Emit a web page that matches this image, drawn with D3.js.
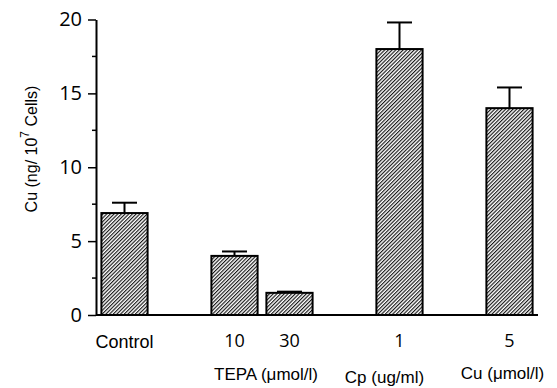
<!DOCTYPE html>
<html>
<head>
<meta charset="utf-8">
<script src="https://cdn.jsdelivr.net/npm/d3@7"></script>
<style>
  body { margin: 0; background: #fff; }
  text { fill: #000; }
</style>
</head>
<body>
<script>
// data
var labels = ["Control", "10", "30", "1", "5"];
var groups = ["Control", "TEPA", "TEPA", "Cp", "Cu"];
var values = [6.9, 4.0, 1.5, 18.0, 14.0];
var errors = [0.7, 0.3, 0.08, 1.8, 1.4];
var groupLabels = [
    { group: "TEPA", text: "TEPA (\u03bcmol/l)" },
    { group: "Cp", text: "Cp (ug/ml)" },
    { group: "Cu", text: "Cu (\u03bcmol/l)" }
];
var yTicks = [0, 5, 10, 15, 20];
var yMinor = [2.5, 7.5, 12.5, 17.5];

var width = 557, height = 388;
var plotLeft = 96, plotRight = 538, plotTop = 19.5, plotBottom = 315;

var svg = d3.select("body").append("svg")
    .attr("width", width)
    .attr("height", height);

// hatch fill for the bars
var defs = svg.append("defs");
defs.append("pattern")
    .attr("id", "hatch")
    .attr("patternUnits", "userSpaceOnUse")
    .attr("width", 2.6)
    .attr("height", 2.6)
    .attr("patternTransform", "rotate(45)")
    .append("line")
    .attr("x1", 0.6).attr("y1", 0)
    .attr("x2", 0.6).attr("y2", 2.6)
    .attr("stroke", "#000")
    .attr("stroke-width", 1.05);

// build band domain with a blank slot whenever the group changes
var slots = [];
labels.forEach(function (d, i) {
    if (i > 0 && groups[i] !== groups[i - 1]) slots.push("gap" + i);
    slots.push(d);
});

var x = d3.scaleBand()
    .domain(slots)
    .range([plotLeft + 1, plotRight - 1])
    .paddingInner(0.16)
    .paddingOuter(0.08);

var y = d3.scaleLinear()
    .domain([0, 20])
    .range([plotBottom, plotTop]);

var data = labels.map(function (d, i) {
    return { label: d, group: groups[i], value: values[i], err: errors[i] };
});

// bars
svg.selectAll("rect.bar")
    .data(data)
    .enter().append("rect")
    .attr("class", "bar")
    .attr("x", function (d) { return x(d.label); })
    .attr("y", function (d) { return y(d.value); })
    .attr("width", x.bandwidth())
    .attr("height", function (d) { return y(0) - y(d.value); })
    .attr("fill", "url(#hatch)")
    .attr("stroke", "#000")
    .attr("stroke-width", 2);

// error bars (upper only)
var capW = 25;
var eb = svg.selectAll("g.err")
    .data(data)
    .enter().append("g")
    .attr("class", "err");
eb.append("line")
    .attr("x1", function (d) { return x(d.label) + x.bandwidth() / 2; })
    .attr("x2", function (d) { return x(d.label) + x.bandwidth() / 2; })
    .attr("y1", function (d) { return y(d.value); })
    .attr("y2", function (d) { return y(d.value + d.err); })
    .attr("stroke", "#000")
    .attr("stroke-width", 2);
eb.append("line")
    .attr("x1", function (d) { return x(d.label) + x.bandwidth() / 2 - capW / 2; })
    .attr("x2", function (d) { return x(d.label) + x.bandwidth() / 2 + capW / 2; })
    .attr("y1", function (d) { return y(d.value + d.err); })
    .attr("y2", function (d) { return y(d.value + d.err); })
    .attr("stroke", "#000")
    .attr("stroke-width", 2);

// y axis
var yAxis = svg.append("g")
    .attr("transform", "translate(" + plotLeft + ",0)")
    .call(d3.axisLeft(y).tickValues(yTicks).tickSize(8).tickSizeOuter(0).tickPadding(6));
yAxis.select(".domain").attr("stroke-width", 2);
yAxis.selectAll(".tick line").attr("stroke-width", 1.5);
yAxis.selectAll(".tick text")
    .attr("font-family", "'Open Sans', sans-serif")
    .attr("font-size", 20);

svg.append("g")
    .attr("transform", "translate(" + plotLeft + ",0)")
    .selectAll("line")
    .data(yMinor)
    .enter().append("line")
    .attr("x1", -4).attr("x2", 0)
    .attr("y1", function (d) { return y(d); })
    .attr("y2", function (d) { return y(d); })
    .attr("stroke", "#000")
    .attr("stroke-width", 1.5);

// x axis baseline
svg.append("line")
    .attr("x1", plotLeft).attr("x2", plotRight)
    .attr("y1", y(0)).attr("y2", y(0))
    .attr("stroke", "#000")
    .attr("stroke-width", 2);

// category labels
svg.selectAll("text.cat")
    .data(data)
    .enter().append("text")
    .attr("class", "cat")
    .attr("x", function (d) { return x(d.label) + x.bandwidth() / 2; })
    .attr("y", function (d) { return d.group === "Control" ? 348 : 347; })
    .attr("text-anchor", "middle")
    .attr("font-family", function (d) {
        return d.group === "Control" ? "'Liberation Sans', Arial, sans-serif" : "'Open Sans', sans-serif";
    })
    .attr("font-size", 18)
    .text(function (d) { return d.label; });

// group labels under the numbers
svg.selectAll("text.grp")
    .data(groupLabels)
    .enter().append("text")
    .attr("class", "grp")
    .attr("x", function (g) {
        var xs = data.filter(function (d) { return d.group === g.group; })
            .map(function (d) { return x(d.label) + x.bandwidth() / 2; });
        return d3.mean(xs) + (g.group === "TEPA" ? 4 : g.group === "Cp" ? -15 : -7);
    })
    .attr("y", function (g) { return g.group === "Cp" ? 383 : g.group === "Cu" ? 379 : 380; })
    .attr("text-anchor", "middle")
    .attr("font-family", "'Liberation Sans', Arial, sans-serif")
    .attr("font-size", 17)
    .text(function (g) { return g.text; });

// y axis title
var yt = svg.append("text")
    .attr("transform", "translate(37,149) rotate(-90)")
    .attr("text-anchor", "middle")
    .attr("font-family", "'Liberation Sans', Arial, sans-serif")
    .attr("font-size", 16);
yt.append("tspan").text("Cu (ng/ 10");
yt.append("tspan").attr("dy", -8).attr("font-size", 12).text("7");
yt.append("tspan").attr("dy", 8).text(" Cells)");
</script>
</body>
</html>
